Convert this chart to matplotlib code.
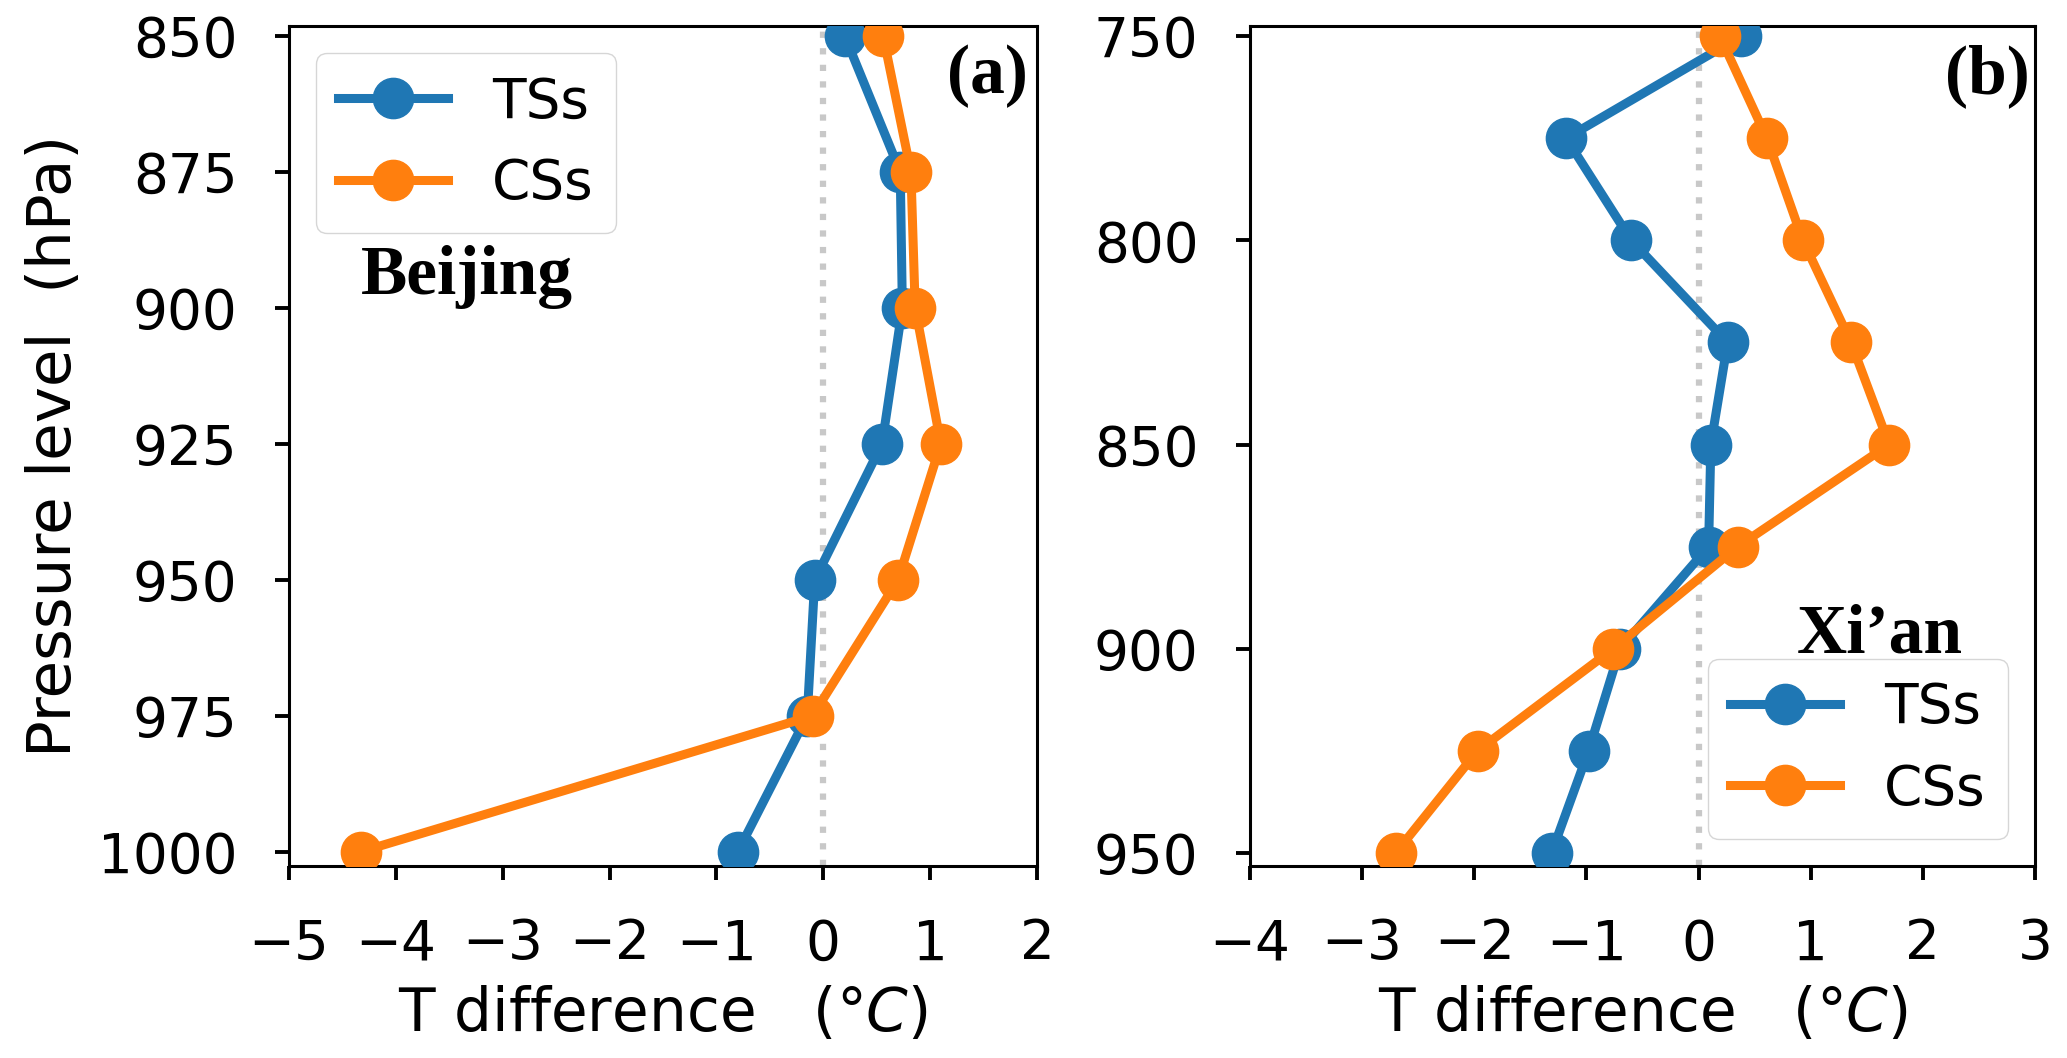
import numpy as np
import matplotlib.pyplot as plt

# Beijing (a)
lev_bj = [850, 875, 900, 925, 950, 975, 1000]
ts_bj = [0.20, 0.72, 0.74, 0.55, -0.08, -0.15, -0.80]
cs_bj = [0.56, 0.82, 0.86, 1.10, 0.70, -0.10, -4.33]

# Xi'an (b)
lev_xa = [750, 775, 800, 825, 850, 875, 900, 925, 950]
ts_xa = [0.38, -1.18, -0.60, 0.26, 0.11, 0.09, -0.70, -0.98, -1.31]
cs_xa = [0.19, 0.61, 0.93, 1.36, 1.70, 0.35, -0.76, -1.97, -2.70]

fs = 39.5
lab_fs = 43
lw = 6.5
ms = 29
serif = ['Liberation Serif', 'DejaVu Serif']
xlab = r'T difference   $(\degree C)$'

plt.rcParams['font.family'] = ['DejaVu Sans']
plt.rcParams['mathtext.fontset'] = 'dejavusans'

fig = plt.figure(figsize=(20.67, 10.58), dpi=100)
ax1 = fig.add_axes([0.1398, 0.1815, 0.3619, 0.794])
ax2 = fig.add_axes([0.6047, 0.1815, 0.3798, 0.794])


def style(ax):
    for s in ax.spines.values():
        s.set_linewidth(2.2)
    ax.tick_params(labelsize=fs, length=10, width=2.8, pad=27)


# panel a
ax1.axvline(0, color='#c8c8c8', ls=':', lw=4.5, zorder=1)
ax1.plot(ts_bj, lev_bj, '-o', color='#1f77b4', lw=lw, ms=ms, label='TSs', zorder=3)
ax1.plot(cs_bj, lev_bj, '-o', color='#ff7f0e', lw=lw, ms=ms, label='CSs', zorder=4)
ax1.set_xlim(-5, 2)
ax1.set_ylim(1002.6, 848.2)
ax1.set_yticks(lev_bj)
ax1.set_xticks(np.arange(-5, 3, 1))
ax1.set_ylabel('Pressure level  (hPa)', fontsize=44, labelpad=10)
ax1.set_xlabel(xlab, fontsize=lab_fs, labelpad=10)
ax1.legend(loc='upper left', fontsize=fs)
ax1.text(0.238, 0.681, 'Beijing', transform=ax1.transAxes, fontsize=50,
         fontweight='bold', family=serif, ha='center', va='baseline')
ax1.text(0.988, 0.92, '(a)', transform=ax1.transAxes, fontsize=50,
         fontweight='bold', family=serif, ha='right', va='baseline')
style(ax1)

# panel b
ax2.axvline(0, color='#c8c8c8', ls=':', lw=4.5, zorder=1)
ax2.plot(ts_xa, lev_xa, '-o', color='#1f77b4', lw=lw, ms=ms, label='TSs', zorder=3)
ax2.plot(cs_xa, lev_xa, '-o', color='#ff7f0e', lw=lw, ms=ms, label='CSs', zorder=4)
ax2.set_xlim(-4, 3)
ax2.set_ylim(953.2, 747.5)
ax2.set_yticks([750, 800, 850, 900, 950])
ax2.set_xticks(np.arange(-4, 4, 1))
ax2.set_xlabel(xlab, fontsize=lab_fs, labelpad=10)
ax2.legend(loc='lower right', fontsize=fs)
ax2.text(0.8025, 0.254, 'Xi\u2019an', transform=ax2.transAxes, fontsize=50,
         fontweight='bold', family=serif, ha='center', va='baseline')
ax2.text(0.9936, 0.92, '(b)', transform=ax2.transAxes, fontsize=50,
         fontweight='bold', family=serif, ha='right', va='baseline')
style(ax2)

fig.savefig('out.png', dpi=100)
